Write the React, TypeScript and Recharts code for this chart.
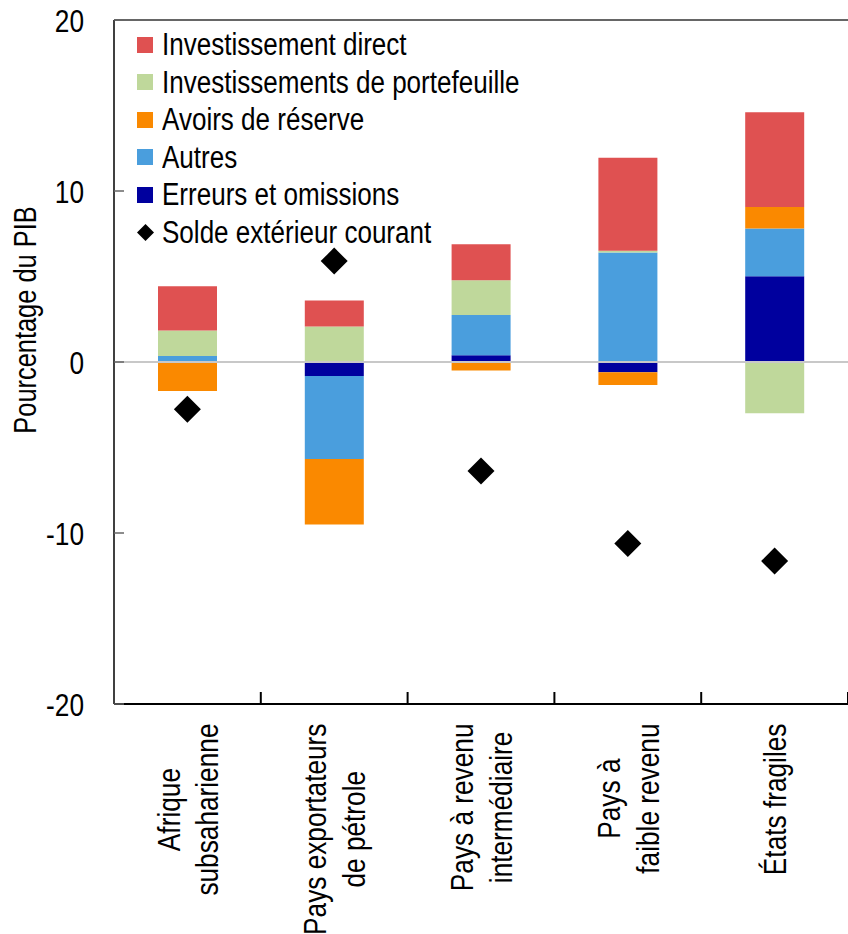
import { ComposedChart, Bar, Scatter, XAxis, YAxis, ReferenceLine } from "recharts";

// Categories (one entry per line of the rotated label)
const categoryLines: string[][] = [
  ["Afrique", "subsaharienne"],
  ["Pays exportateurs", "de pétrole"],
  ["Pays à revenu", "intermédiaire"],
  ["Pays à", "faible revenu"],
  ["États fragiles"],
];

// Percent of GDP
const investissementDirect = [2.59, 1.52, 2.1, 5.44, 5.54];
const investissementsPortefeuille = [1.49, 2.07, 2.03, 0.11, -3.0];
const avoirsReserve = [-1.7, -3.84, -0.5, -0.74, 1.26];
const autres = [0.35, -4.85, 2.36, 6.4, 2.79];
const erreursOmissions = [0, -0.82, 0.39, -0.6, 5.01];
const soldeCourant = [-2.77, 5.9, -6.37, -10.62, -11.64];

const yTicks = [-20, -10, 0, 10, 20];

// stacking order: first series sits next to zero
const series = [
  { key: "erreurs", name: "Erreurs et omissions", color: "#00009E", values: erreursOmissions },
  { key: "autres", name: "Autres", color: "#4A9EDD", values: autres },
  { key: "avoirs", name: "Avoirs de réserve", color: "#FA8900", values: avoirsReserve },
  { key: "portefeuille", name: "Investissements de portefeuille", color: "#BFD89B", values: investissementsPortefeuille },
  { key: "direct", name: "Investissement direct", color: "#DF5151", values: investissementDirect },
];

const data = categoryLines.map((lines, i) => {
  const row: Record<string, string | number> = { name: lines.join(" "), solde: soldeCourant[i] };
  series.forEach((s) => (row[s.key] = s.values[i]));
  return row;
});

const W = 848;
const H = 934;
const AXIS_W = 114;
const XAXIS_H = 230;
const band = (W - AXIS_W) / categoryLines.length;

// no narrow font installed, so squeeze Liberation Sans horizontally
const FONT = "'Liberation Sans', Arial, sans-serif";
const NARROW = 0.82;

const ctx = typeof document !== "undefined" ? document.createElement("canvas").getContext("2d") : null;
function textWidth(s: string, size: number) {
  if (!ctx) return s.length * size * 0.5;
  ctx.font = `${size}px ${FONT}`;
  return ctx.measureText(s).width;
}

function CategoryTick({ x, y, index }: any) {
  const lines = categoryLines[index] ?? [];
  const fs = 32;
  const lh = 38.5;
  const maxLen = Math.max(...lines.map((l) => textWidth(l, fs)));
  const bx = x + band / 2;
  return (
    <g>
      <line x1={bx} y1={y} x2={bx} y2={y - 12} stroke="#000" strokeWidth={2} />
      <g transform={`translate(${x},${y + 19.5}) rotate(-90) scale(${NARROW},1)`}>
        {lines.map((l, i) => (
          <text
            key={i}
            x={-maxLen / 2}
            y={(i - (lines.length - 1) / 2) * lh + 0.36 * fs}
            textAnchor="middle"
            fontSize={fs}
            fontFamily={FONT}
            fill="#000"
          >
            {l}
          </text>
        ))}
      </g>
    </g>
  );
}

function ValueTick({ x, y, payload }: any) {
  return (
    <g>
      <line x1={x} y1={y} x2={x + 10} y2={y} stroke="#666" strokeWidth={1.5} />
      <g transform={`translate(${x - 30},${y}) scale(${NARROW},1)`}>
        <text x={0} y={0.36 * 32} textAnchor="end" fontSize={32} fontFamily={FONT} fill="#000">
          {payload.value}
        </text>
      </g>
    </g>
  );
}

function Diamond({ cx, cy }: any) {
  const r = 13.5;
  return <polygon points={`${cx},${cy - r} ${cx + r},${cy} ${cx},${cy + r} ${cx - r},${cy}`} fill="#000" />;
}

function YLabel() {
  return (
    <text
      transform={`translate(36,320) rotate(-90) scale(${NARROW},1)`}
      textAnchor="middle"
      fontSize={31}
      fontFamily={FONT}
      fill="#000"
    >
      Pourcentage du PIB
    </text>
  );
}

function LegendBox() {
  const items = [...series].reverse();
  const row = { display: "flex", alignItems: "center", height: 37.5 } as const;
  const label = {
    whiteSpace: "nowrap",
    display: "inline-block",
    transform: "scaleX(0.84)",
    transformOrigin: "left center",
  } as const;
  return (
    <div
      style={{
        position: "absolute",
        left: 137,
        top: 26,
        fontFamily: FONT,
        fontSize: 31,
        color: "#000",
        lineHeight: "37.5px",
      }}
    >
      {items.map((s) => (
        <div key={s.key} style={row}>
          <span style={{ width: 16, height: 16, background: s.color, marginRight: 9, flex: "none" }} />
          <span style={label}>{s.name}</span>
        </div>
      ))}
      <div style={row}>
        <svg width={17} height={17} style={{ marginRight: 8, flex: "none" }}>
          <polygon points="8.5,0 17,8.5 8.5,17 0,8.5" fill="#000" />
        </svg>
        <span style={label}>Solde extérieur courant</span>
      </div>
    </div>
  );
}

export default function App() {
  return (
    <div style={{ position: "absolute", left: 0, top: 0, width: W, height: H, background: "#fff" }}>
      <ComposedChart
        width={W}
        height={H}
        data={data}
        stackOffset="sign"
        margin={{ top: 20, right: 0, left: 0, bottom: 0 }}
      >
        <XAxis
          dataKey="name"
          height={XAXIS_H}
          interval={0}
          tickSize={0}
          tickMargin={0}
          tickLine={false}
          axisLine={{ stroke: "#000", strokeWidth: 2 }}
          tick={<CategoryTick />}
        />
        <YAxis
          type="number"
          domain={[-20, 20]}
          ticks={yTicks}
          width={AXIS_W}
          tickSize={0}
          tickMargin={0}
          tickLine={false}
          axisLine={{ stroke: "#000", strokeWidth: 1.5 }}
          tick={<ValueTick />}
          label={<YLabel />}
        />
        {series.map((s) => (
          <Bar key={s.key} dataKey={s.key} name={s.name} stackId="a" fill={s.color} barSize={59} isAnimationActive={false} />
        ))}
        <Scatter dataKey="solde" name="Solde extérieur courant" shape={<Diamond />} isAnimationActive={false} />
        <ReferenceLine y={0} stroke="#c8c8c8" strokeWidth={2} />
        <ReferenceLine y={20} stroke="#333" strokeWidth={1.5} />
      </ComposedChart>
      <LegendBox />
    </div>
  );
}
